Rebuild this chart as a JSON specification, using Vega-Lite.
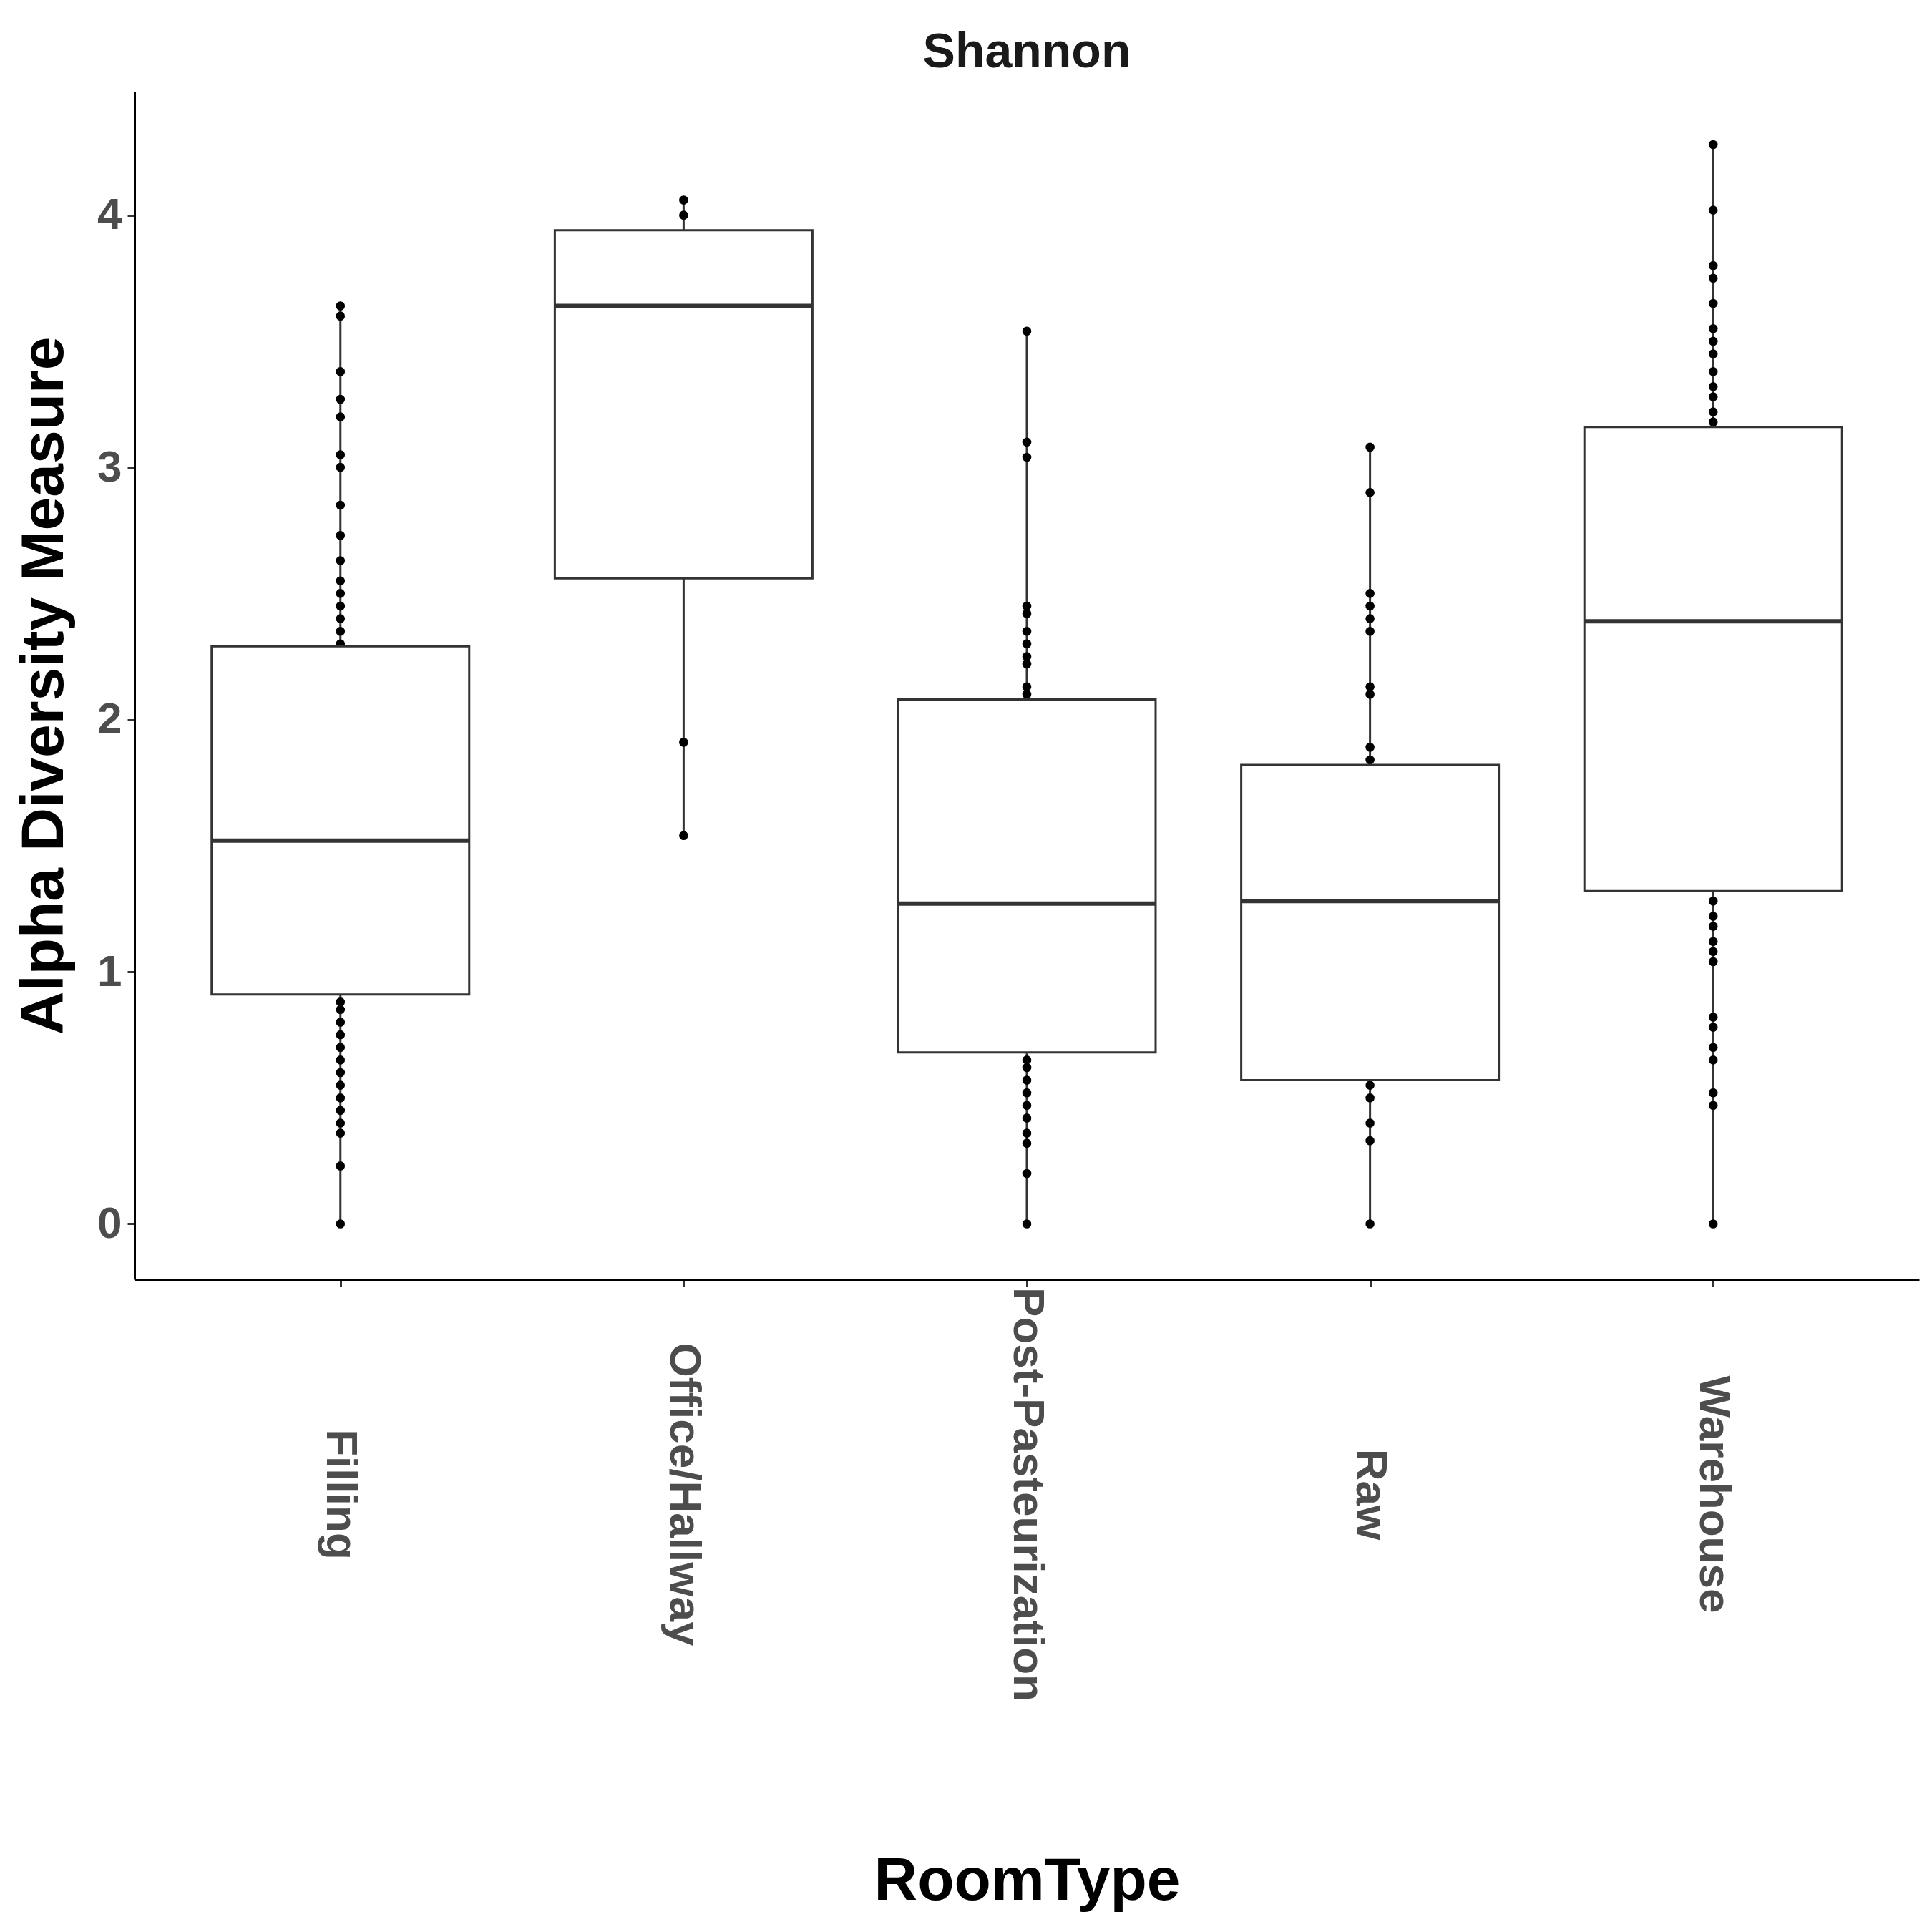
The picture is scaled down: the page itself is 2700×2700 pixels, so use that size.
{
  "$schema": "https://vega.github.io/schema/vega-lite/v6.json",
  "width": 2494,
  "height": 1660,
  "padding": {"left": 20, "top": 40, "right": 10, "bottom": 10},
  "background": "white",
  "title": {"text": "Shannon", "fontSize": 68, "font": "Liberation Sans", "fontWeight": "bold", "color": "#1a1a1a", "offset": 20},
  "datasets": {
    "boxes": [
      {"RoomType": "Filling", "lo": 0, "q1": 0.91, "med": 1.52, "q3": 2.29, "hi": 3.64},
      {"RoomType": "Office/Hallway", "lo": 1.54, "q1": 2.56, "med": 3.64, "q3": 3.94, "hi": 4.06},
      {"RoomType": "Post-Pasteurization", "lo": 0, "q1": 0.68, "med": 1.27, "q3": 2.08, "hi": 3.54},
      {"RoomType": "Raw", "lo": 0, "q1": 0.57, "med": 1.28, "q3": 1.82, "hi": 3.08},
      {"RoomType": "Warehouse", "lo": 0, "q1": 1.32, "med": 2.39, "q3": 3.16, "hi": 4.28}
    ],
    "points": [
      {"RoomType": "Filling", "v": 0}, {"RoomType": "Filling", "v": 0.23}, {"RoomType": "Filling", "v": 0.36}, {"RoomType": "Filling", "v": 0.4}, {"RoomType": "Filling", "v": 0.45}, {"RoomType": "Filling", "v": 0.5}, {"RoomType": "Filling", "v": 0.55}, {"RoomType": "Filling", "v": 0.6}, {"RoomType": "Filling", "v": 0.65}, {"RoomType": "Filling", "v": 0.7}, {"RoomType": "Filling", "v": 0.75}, {"RoomType": "Filling", "v": 0.8}, {"RoomType": "Filling", "v": 0.85}, {"RoomType": "Filling", "v": 0.88},
      {"RoomType": "Filling", "v": 2.3}, {"RoomType": "Filling", "v": 2.35}, {"RoomType": "Filling", "v": 2.4}, {"RoomType": "Filling", "v": 2.45}, {"RoomType": "Filling", "v": 2.5}, {"RoomType": "Filling", "v": 2.55}, {"RoomType": "Filling", "v": 2.63}, {"RoomType": "Filling", "v": 2.73}, {"RoomType": "Filling", "v": 2.85}, {"RoomType": "Filling", "v": 3.0}, {"RoomType": "Filling", "v": 3.05}, {"RoomType": "Filling", "v": 3.2}, {"RoomType": "Filling", "v": 3.27}, {"RoomType": "Filling", "v": 3.38}, {"RoomType": "Filling", "v": 3.6}, {"RoomType": "Filling", "v": 3.64},
      {"RoomType": "Office/Hallway", "v": 1.54}, {"RoomType": "Office/Hallway", "v": 1.91}, {"RoomType": "Office/Hallway", "v": 4.0}, {"RoomType": "Office/Hallway", "v": 4.06},
      {"RoomType": "Post-Pasteurization", "v": 0}, {"RoomType": "Post-Pasteurization", "v": 0.2}, {"RoomType": "Post-Pasteurization", "v": 0.32}, {"RoomType": "Post-Pasteurization", "v": 0.36}, {"RoomType": "Post-Pasteurization", "v": 0.42}, {"RoomType": "Post-Pasteurization", "v": 0.47}, {"RoomType": "Post-Pasteurization", "v": 0.52}, {"RoomType": "Post-Pasteurization", "v": 0.57}, {"RoomType": "Post-Pasteurization", "v": 0.62}, {"RoomType": "Post-Pasteurization", "v": 0.65},
      {"RoomType": "Post-Pasteurization", "v": 2.1}, {"RoomType": "Post-Pasteurization", "v": 2.13}, {"RoomType": "Post-Pasteurization", "v": 2.22}, {"RoomType": "Post-Pasteurization", "v": 2.25}, {"RoomType": "Post-Pasteurization", "v": 2.3}, {"RoomType": "Post-Pasteurization", "v": 2.35}, {"RoomType": "Post-Pasteurization", "v": 2.42}, {"RoomType": "Post-Pasteurization", "v": 2.45}, {"RoomType": "Post-Pasteurization", "v": 3.04}, {"RoomType": "Post-Pasteurization", "v": 3.1}, {"RoomType": "Post-Pasteurization", "v": 3.54},
      {"RoomType": "Raw", "v": 0}, {"RoomType": "Raw", "v": 0.33}, {"RoomType": "Raw", "v": 0.4}, {"RoomType": "Raw", "v": 0.5}, {"RoomType": "Raw", "v": 0.55},
      {"RoomType": "Raw", "v": 1.84}, {"RoomType": "Raw", "v": 1.89}, {"RoomType": "Raw", "v": 2.1}, {"RoomType": "Raw", "v": 2.13}, {"RoomType": "Raw", "v": 2.35}, {"RoomType": "Raw", "v": 2.4}, {"RoomType": "Raw", "v": 2.45}, {"RoomType": "Raw", "v": 2.5}, {"RoomType": "Raw", "v": 2.9}, {"RoomType": "Raw", "v": 3.08},
      {"RoomType": "Warehouse", "v": 0}, {"RoomType": "Warehouse", "v": 0.47}, {"RoomType": "Warehouse", "v": 0.52}, {"RoomType": "Warehouse", "v": 0.65}, {"RoomType": "Warehouse", "v": 0.7}, {"RoomType": "Warehouse", "v": 0.78}, {"RoomType": "Warehouse", "v": 0.82}, {"RoomType": "Warehouse", "v": 1.04}, {"RoomType": "Warehouse", "v": 1.08}, {"RoomType": "Warehouse", "v": 1.12}, {"RoomType": "Warehouse", "v": 1.18}, {"RoomType": "Warehouse", "v": 1.22}, {"RoomType": "Warehouse", "v": 1.28},
      {"RoomType": "Warehouse", "v": 3.18}, {"RoomType": "Warehouse", "v": 3.22}, {"RoomType": "Warehouse", "v": 3.28}, {"RoomType": "Warehouse", "v": 3.32}, {"RoomType": "Warehouse", "v": 3.38}, {"RoomType": "Warehouse", "v": 3.45}, {"RoomType": "Warehouse", "v": 3.5}, {"RoomType": "Warehouse", "v": 3.55}, {"RoomType": "Warehouse", "v": 3.65}, {"RoomType": "Warehouse", "v": 3.75}, {"RoomType": "Warehouse", "v": 3.8}, {"RoomType": "Warehouse", "v": 4.02}, {"RoomType": "Warehouse", "v": 4.28}
    ]
  },
  "encoding": {
    "x": {
      "field": "RoomType", "type": "nominal",
      "scale": {"type": "point", "padding": 0.6},
      "axis": {
        "title": "RoomType", "titleFontSize": 84, "titleFont": "Liberation Sans", "titleFontWeight": "bold", "titleColor": "black",
        "labelAngle": 90, "labelAlign": "center", "labelBaseline": "middle", "labelPadding": 290,
        "labelFontSize": 62, "labelFont": "Liberation Sans", "labelFontWeight": "bold", "labelColor": "#4d4d4d",
        "domainColor": "black", "domainWidth": 3, "tickColor": "#333333", "tickWidth": 3, "tickSize": 10,
        "labelLimit": 0, "titlePadding": 600
      }
    }
  },
  "layer": [
    {
      "data": {"name": "boxes"},
      "mark": {"type": "rule", "color": "#333333", "strokeWidth": 3},
      "encoding": {
        "y": {"field": "lo", "type": "quantitative",
          "scale": {"domain": [-0.22, 4.49], "nice": false, "zero": false},
          "axis": {
            "title": "Alpha Diversity Measure", "titleFontSize": 84, "titleFont": "Liberation Sans", "titleFontWeight": "bold", "titleColor": "black", "titlePadding": 30,
            "values": [0, 1, 2, 3, 4], "format": "d", "grid": false,
            "labelFontSize": 62, "labelFont": "Liberation Sans", "labelFontWeight": "bold", "labelColor": "#4d4d4d", "labelPadding": 8,
            "domainColor": "black", "domainWidth": 3, "tickColor": "#333333", "tickWidth": 3, "tickSize": 10
          }},
        "y2": {"field": "hi"}
      }
    },
    {
      "data": {"name": "points"},
      "mark": {"type": "circle", "color": "black", "size": 160, "opacity": 1},
      "encoding": {"y": {"field": "v", "type": "quantitative"}}
    },
    {
      "data": {"name": "boxes"},
      "mark": {"type": "bar", "size": 360, "fill": "white", "stroke": "#333333", "strokeWidth": 3},
      "encoding": {"y": {"field": "q1", "type": "quantitative"}, "y2": {"field": "q3"}}
    },
    {
      "data": {"name": "boxes"},
      "mark": {"type": "tick", "size": 360, "thickness": 6, "color": "#333333", "opacity": 1},
      "encoding": {"y": {"field": "med", "type": "quantitative"}}
    }
  ],
  "config": {"view": {"stroke": null}}
}
